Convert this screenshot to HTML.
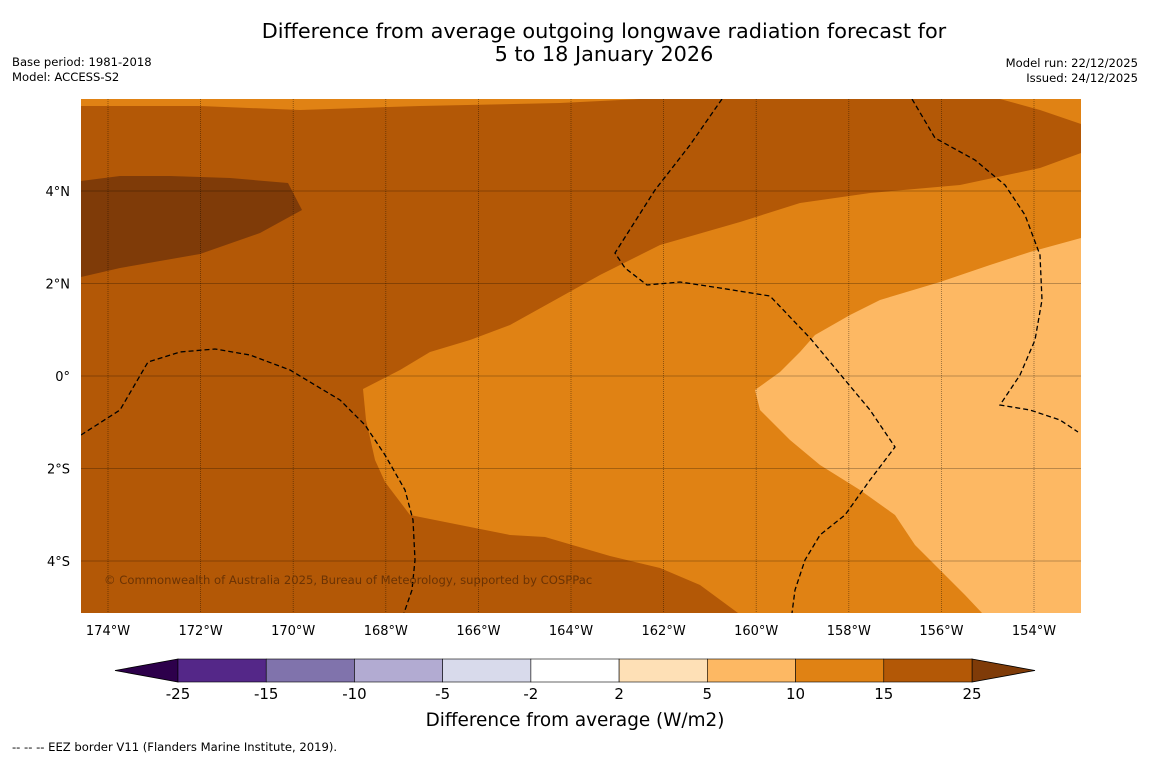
<!DOCTYPE html>
<html>
<head>
<meta charset="utf-8">
<style>
  html, body { margin: 0; padding: 0; background: #fff; }
  body { width: 1150px; height: 758px; overflow: hidden; font-family: "Liberation Sans", "DejaVu Sans", sans-serif; }
  svg text { font-family: "DejaVu Sans", "Liberation Sans", sans-serif; }
</style>
</head>
<body>
<svg id="chart" width="1150" height="758" viewBox="0 0 1150 758" xmlns="http://www.w3.org/2000/svg">
  <text x="604" y="38" text-anchor="middle" font-size="20.8" fill="#000">Difference from average outgoing longwave radiation forecast for</text>
  <text x="604" y="61" text-anchor="middle" font-size="20.8" fill="#000">5 to 18 January 2026</text>
  <text x="12" y="66" font-size="11.6">Base period: 1981-2018</text>
  <text x="12" y="81" font-size="11.6">Model: ACCESS-S2</text>
  <text x="1138" y="67" text-anchor="end" font-size="11.6">Model run: 22/12/2025</text>
  <text x="1138" y="82" text-anchor="end" font-size="11.6">Issued: 24/12/2025</text>
  <defs><clipPath id="plotclip"><rect x="81" y="99" width="1000" height="514"/></clipPath></defs>
  <g id="plot" clip-path="url(#plotclip)"></g>
  <g id="axes"></g>
  <text x="104" y="584" font-size="11.6" fill="#6b3304">© Commonwealth of Australia 2025, Bureau of Meteorology, supported by COSPPac</text>
  <g id="colorbar"></g>
  <text x="575" y="726" text-anchor="middle" font-size="18.4">Difference from average (W/m2)</text>
  <text x="12" y="751" font-size="11.6">--  --  -- EEZ border V11 (Flanders Marine Institute, 2019).</text>
</svg>
<script>
const lonTicks = [-174,-172,-170,-168,-166,-164,-162,-160,-158,-156,-154];
const latTicks = [4,2,0,-2,-4];
const cbLevels = ["-25","-15","-10","-5","-2","2","5","10","15","25"];
const cbColors = ["#542788","#8073ac","#b2abd2","#d8daeb","#ffffff","#fee0b6","#fdb863","#e08214","#b35806"];
const cbLowColor = "#2d004b";
const cbHighColor = "#7f3b08";

function xOf(lon){ return 108 + (lon + 174) * 46.3; }
function yOf(lat){ return 376 - lat * 46.25; }
function lonOf(x){ return -174 + (x - 108) / 46.3; }
function latOf(y){ return (376 - y) / 46.25; }

const P = (arr) => arr.map(p => [lonOf(p[0]), latOf(p[1])]);
const regionBase = P([[81,99],[1081,99],[1081,613],[81,613]]);
const regionDark = P([[81,181],[120,176],[170,176],[230,178],[288,183],[302,210],[260,233],[200,254],[120,268],[81,277]]);
const regionTopStrip = P([[81,99],[640,99],[560,103],[420,106],[300,110],[200,106],[81,106]]);
const regionTopRight = P([[1000,99],[1081,99],[1081,124],[1040,110]]);
const regionOrange = P([[1081,153],[1040,168],[960,185],[870,193],[800,203],[740,222],[660,245],[600,275],[510,325],[470,340],[430,352],[400,370],[363,389],[366,420],[375,460],[385,482],[410,515],[450,523],[510,535],[545,537],[610,556],[660,568],[700,585],[738,613],[1081,613]]);
const regionLight = P([[1081,238],[1030,252],[990,265],[940,282],[880,300],[850,315],[815,335],[800,352],[780,372],[755,390],[760,410],[775,425],[790,440],[820,465],[860,490],[895,515],[915,545],[940,570],[965,595],[982,613],[1081,613]]);
const eez1 = P([[81,435],[120,410],[148,362],[180,352],[215,349],[250,355],[290,370],[340,400],[365,425],[385,455],[405,490],[413,520],[415,560],[412,590],[404,613]]);
const eez2 = P([[722,99],[690,145],[655,190],[615,253],[625,268],[647,285],[680,282],[720,288],[770,296],[810,338],[845,380],[870,410],[895,447],[870,480],[845,515],[820,535],[805,560],[795,590],[792,613]]);
const eez3 = P([[912,99],[935,138],[975,160],[1005,185],[1025,215],[1040,255],[1042,300],[1035,340],[1020,375],[1000,405],[1030,410],[1060,420],[1078,432]]);

const NS = "http://www.w3.org/2000/svg";
const plot = document.getElementById('plot');
const axes = document.getElementById('axes');
const cb = document.getElementById('colorbar');
function mk(tag, attrs, parent){ const e = document.createElementNS(NS, tag); for (const k in attrs) e.setAttribute(k, attrs[k]); parent.appendChild(e); return e; }
function pts(r){ return r.map(p => xOf(p[0]).toFixed(1) + ',' + yOf(p[1]).toFixed(1)).join(' '); }

const regions = [[regionBase,"#b35806","region-15-25"],[regionDark,"#7f3b08","region-above-25"],[regionTopStrip,"#e08214","region-10-15-top"],[regionTopRight,"#e08214","region-10-15-topright"],[regionOrange,"#e08214","region-10-15"],[regionLight,"#fdb863","region-5-10"]];
regions.forEach(r => {
  const e = mk('polygon', {points: pts(r[0]), fill: r[1]}, plot);
  
  
});
lonTicks.forEach(l => {
  const e = mk('line', {x1: xOf(l), x2: xOf(l), y1: 99, y2: 613, stroke: '#000', 'stroke-opacity': 0.45, 'stroke-width': 0.8, 'stroke-dasharray': '1,1'}, plot);
  
  
});
latTicks.forEach(l => {
  const e = mk('line', {x1: 81, x2: 1081, y1: yOf(l), y2: yOf(l), stroke: '#000', 'stroke-opacity': 0.35, 'stroke-width': 0.8}, plot);
  
  
});
[eez1, eez2, eez3].forEach(r => {
  const e = mk('polyline', {points: pts(r), fill: 'none', stroke: '#000', 'stroke-width': 1.3, 'stroke-dasharray': '5,3'}, plot);
  
  
});
lonTicks.forEach(l => {
  const t = mk('text', {x: xOf(l), y: 635, 'text-anchor': 'middle', 'font-size': 13}, axes);
  t.textContent = Math.abs(l) + '°W';
  
  
});
latTicks.forEach(l => {
  const t = mk('text', {x: 70, y: yOf(l) + 5, 'text-anchor': 'end', 'font-size': 13}, axes);
  t.textContent = l === 0 ? '0°' : Math.abs(l) + '°' + (l > 0 ? 'N' : 'S');
  
  
});

const cbX0 = 178, cbX1 = 972, cbY = 659, cbH = 23;
const segW = (cbX1 - cbX0) / cbColors.length;
let tri = mk('polygon', {points: `${cbX0},${cbY} 115,${cbY+cbH/2} ${cbX0},${cbY+cbH}`, fill: cbLowColor, stroke: '#000', 'stroke-width': 0.8}, cb);


tri = mk('polygon', {points: `${cbX1},${cbY} 1035,${cbY+cbH/2} ${cbX1},${cbY+cbH}`, fill: cbHighColor, stroke: '#000', 'stroke-width': 0.8}, cb);


cbColors.forEach((c, i) => {
  const r = mk('rect', {x: cbX0 + i * segW, y: cbY, width: segW, height: cbH, fill: c, stroke: '#000', 'stroke-width': 0.6}, cb);
  
  
});
cbLevels.forEach((lv, i) => {
  const t = mk('text', {x: cbX0 + i * segW, y: 699, 'text-anchor': 'middle', 'font-size': 15}, cb);
  t.textContent = lv;
  
  
});
</script>
</body>
</html>
